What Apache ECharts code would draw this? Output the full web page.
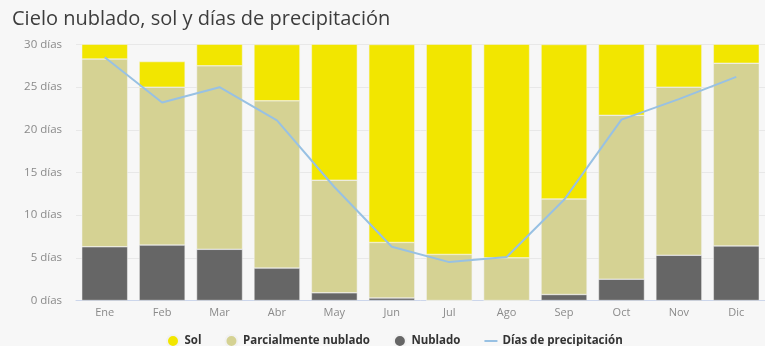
<!DOCTYPE html>
<html>
<head>
<meta charset="utf-8">
<script src="https://cdn.jsdelivr.net/npm/echarts@6/dist/echarts.min.js"></script>
<style>
  html, body { margin: 0; padding: 0; background: #f7f7f7; }
  #chart { width: 765px; height: 346px; }
</style>
</head>
<body>
<div id="chart"></div>
<script>
// Monthly sky conditions (days) and precipitation days
const meses = ['Ene', 'Feb', 'Mar', 'Abr', 'May', 'Jun', 'Jul', 'Ago', 'Sep', 'Oct', 'Nov', 'Dic'];
const nublado = [6.3, 6.5, 6.0, 3.8, 0.9, 0.3, 0.0, 0.0, 0.7, 2.5, 5.3, 6.4];
const parcial = [22.0, 18.5, 21.5, 19.6, 13.2, 6.5, 5.4, 5.0, 11.2, 19.2, 19.7, 21.4];
const sol = [2.7, 3.0, 3.5, 6.6, 16.9, 23.2, 25.6, 26.0, 18.1, 9.3, 5.0, 3.2];
const precipitacion = [28.5, 23.2, 25.0, 21.1, 13.3, 6.3, 4.5, 5.1, 11.8, 21.2, 23.6, 26.2];

const fontFamily = '"Open Sans", "Noto Sans", sans-serif';
const chart = echarts.init(document.getElementById('chart'), null, { renderer: 'canvas' });

chart.setOption({
  backgroundColor: '#f7f7f7',
  animation: false,
  textStyle: { fontFamily: fontFamily },
  title: {
    text: 'Cielo nublado, sol y días de precipitación',
    left: 7,
    top: 4,
    textStyle: { fontFamily: fontFamily, fontSize: 20, fontWeight: 'normal', color: '#3d3d3d' }
  },
  legend: {
    left: 161,
    top: 329,
    itemGap: 23,
    itemWidth: 13,
    itemHeight: 12,
    textStyle: { fontFamily: fontFamily, fontSize: 11.5, fontWeight: 'bold', color: '#333' },
    data: [
      { name: 'Sol', icon: 'circle' },
      { name: 'Parcialmente nublado', icon: 'circle' },
      { name: 'Nublado', icon: 'circle' },
      { name: 'Días de precipitación', itemStyle: { opacity: 0 } }
    ]
  },
  grid: { left: 76, top: 44.5, width: 698, height: 256, containLabel: false },
  xAxis: {
    type: 'category',
    data: meses,
    axisLine: { lineStyle: { color: '#ccd6eb' } },
    axisTick: { show: false },
    axisLabel: { color: '#8a8a8a', fontSize: 11, margin: 7 }
  },
  yAxis: {
    type: 'value',
    min: 0,
    max: 30,
    interval: 5,
    axisLine: { show: false },
    axisTick: { show: false },
    splitLine: { lineStyle: { color: '#e8e8e8' } },
    axisLabel: { color: '#8a8a8a', fontSize: 11.5, margin: 14, formatter: '{value} días' }
  },
  series: [
    {
      name: 'Nublado', type: 'bar', stack: 'cielo', data: nublado,
      barCategoryGap: '20%',
      itemStyle: { color: '#666666', borderColor: '#f2f2f2', borderWidth: 0.5 }
    },
    {
      name: 'Parcialmente nublado', type: 'bar', stack: 'cielo', data: parcial,
      itemStyle: { color: '#d5d293', borderColor: '#f2f2f2', borderWidth: 0.5 }
    },
    {
      name: 'Sol', type: 'bar', stack: 'cielo', data: sol,
      itemStyle: { color: '#f2e600', borderColor: '#f2f2f2', borderWidth: 0.5 }
    },
    {
      name: 'Días de precipitación', type: 'line', data: precipitacion,
      symbol: 'none',
      lineStyle: { color: '#98c1e3', width: 2 },
      itemStyle: { color: '#98c1e3' },
      z: 5
    }
  ]
});
</script>
</body>
</html>
